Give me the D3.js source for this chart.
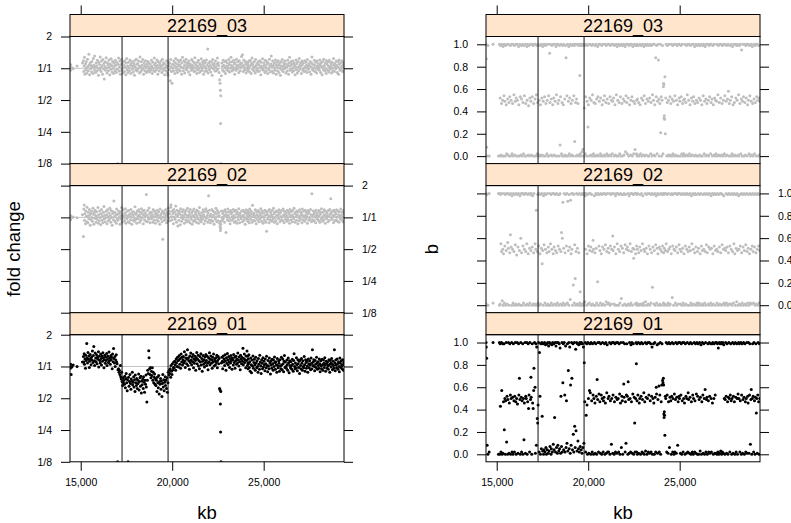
<!DOCTYPE html>
<html>
<head>
<meta charset="utf-8">
<script src="https://cdn.jsdelivr.net/npm/d3@7"></script>
<style>
  body { margin: 0; background: #fff; }
  text { font-family: "Liberation Sans", Arial, sans-serif; }
</style>
</head>
<body>
<div id="chart"></div>
<script>
// probe positions (kb), shared by all three samples
const positions = [
  14420, 14432, 14450, 14478, 14520, 14590, 14800, 15095,
  15150, 15168, 15190, 15203, 15231, 15262, 15275, 15301, 15330, 15342,
  15370, 15399, 15415, 15446, 15470, 15488, 15520, 15541, 15566, 15597,
  15612, 15640, 15672, 15690, 15715, 15748, 15760, 15791, 15820, 15838,
  15866, 15893, 15910, 15942, 15970, 15985, 16014, 16040, 16066, 16090,
  16118, 16135, 16164, 16195, 16212, 16240, 16270, 16288, 16315, 16344,
  16360, 16391, 16420, 16437, 16465, 16490, 16512, 16545, 16570, 16588,
  16616, 16648, 16661, 16690, 16722, 16740, 16768, 16795, 16813, 16846,
  16870, 16885, 16917, 16944, 16962, 16990, 17020, 17036, 17068, 17095,
  17112, 17140, 17168, 17186, 17215, 17240, 17262, 17290, 17318, 17335,
  17364, 17392, 17410, 17440, 17468, 17485, 17514, 17542, 17560, 17590,
  17616, 17640, 17668, 17690, 17718, 17745, 17762, 17794, 17820, 17838,
  17866, 17893, 17914, 17940, 17968, 17986, 18015, 18042, 18060, 18092,
  18118, 18135, 18166, 18190, 18214, 18240, 18268, 18286, 18315, 18342,
  18360, 18392, 18418, 18435, 18464, 18490, 18512, 18540, 18568, 18586,
  18615, 18642, 18660, 18690, 18718, 18736, 18765, 18790, 18812, 18840,
  18866, 18885, 18914, 18940, 18962, 18990, 19018, 19036, 19065, 19092,
  19110, 19140, 19168, 19186, 19215, 19240, 19262, 19290, 19318, 19336,
  19364, 19390, 19412, 19440, 19468, 19486, 19515, 19540, 19562, 19590,
  19616, 19636, 19665, 19690, 19712, 19740, 19768, 19786, 19815, 19842,
  19860, 19890, 19918, 19936, 19964, 19990, 20012, 20040, 20068, 20086,
  20115, 20142, 20160, 20190, 20218, 20236, 20265, 20290, 20312, 20340,
  20368, 20386, 20415, 20440, 20462, 20490, 20518, 20536, 20565, 20590,
  20612, 20640, 20668, 20686, 20715, 20742, 20760, 20790, 20818, 20836,
  20865, 20890, 20912, 20940, 20968, 20986, 21015, 21040, 21062, 21090,
  21118, 21136, 21165, 21190, 21212, 21240, 21268, 21286, 21315, 21342,
  21360, 21390, 21418, 21436, 21465, 21490, 21512, 21540, 21568, 21586,
  21615, 21640, 21662, 21690, 21718, 21736, 21765, 21790, 21812, 21840,
  21868, 21886, 21915, 21942, 21960, 21990, 22018, 22036, 22065, 22090,
  22112, 22140, 22168, 22186, 22215, 22240, 22262, 22290, 22318, 22336,
  22365, 22390, 22412, 22440, 22468, 22486, 22515, 22540, 22562, 22590,
  22618, 22632, 22645, 22656, 22668, 22690, 22715, 22742, 22760, 22790,
  22818, 22836, 22865, 22890, 22912, 22940, 22968, 22986, 23015, 23040,
  23062, 23090, 23118, 23136, 23165, 23190, 23212, 23240, 23268, 23286,
  23315, 23342, 23360, 23390, 23418, 23436, 23465, 23490, 23512, 23540,
  23568, 23586, 23615, 23640, 23662, 23690, 23718, 23736, 23765, 23790,
  23812, 23840, 23868, 23886, 23915, 23942, 23960, 23990, 24018, 24036,
  24065, 24090, 24108, 24122, 24135, 24148, 24160, 24172, 24190, 24215,
  24240, 24262, 24290, 24318, 24336, 24365, 24390, 24412, 24440, 24468,
  24486, 24515, 24540, 24562, 24590, 24618, 24636, 24665, 24690, 24712,
  24740, 24768, 24786, 24815, 24842, 24860, 24890, 24918, 24936, 24964,
  24990, 25012, 25040, 25068, 25086, 25115, 25142, 25160, 25190, 25218,
  25236, 25265, 25290, 25312, 25340, 25368, 25386, 25415, 25440, 25462,
  25490, 25518, 25536, 25565, 25590, 25612, 25640, 25668, 25686, 25715,
  25742, 25760, 25790, 25818, 25836, 25865, 25890, 25912, 25940, 25968,
  25986, 26015, 26040, 26062, 26090, 26118, 26136, 26165, 26190, 26212,
  26240, 26268, 26286, 26315, 26342, 26360, 26390, 26418, 26436, 26465,
  26490, 26512, 26540, 26568, 26586, 26615, 26640, 26662, 26690, 26718,
  26736, 26765, 26790, 26812, 26840, 26868, 26886, 26915, 26942, 26960,
  26990, 27018, 27036, 27065, 27090, 27112, 27140, 27168, 27186, 27215,
  27240, 27262, 27290, 27318, 27336, 27365, 27390, 27412, 27440, 27468,
  27486, 27515, 27540, 27562, 27590, 27618, 27636, 27665, 27690, 27712,
  27740, 27768, 27786, 27815, 27842, 27860, 27890, 27918, 27936, 27964,
  27990, 28012, 28040, 28068, 28086, 28115, 28142, 28160, 28190, 28218,
  28236, 28265, 28290, 28312, 28340, 28368, 28386, 28415, 28440, 28462,
  28490, 28518, 28536, 28565, 28590, 28612, 28640, 28668, 28686, 28715,
  28742, 28760, 28790, 28818, 28836, 28865, 28890, 28912, 28940, 28968,
  28986, 29015, 29040, 29062, 29090, 29118, 29136, 29165, 29190, 29212,
  29240, 29268, 29286, 29315, 29340, 29362, 29378
];

// copy-number fold change per probe
const foldChange03 = [
  1.02, .96, 1.08, 1.00, 1.01, .99, 1.05, 1.12,
  1.18, .93, 1.05, 1.27, .88, 1.10, .97, 1.15, 1.01, .90,
  1.22, 1.04, .95, 1.36, 1.08, .87, 1.13, .99, 1.06, .92,
  1.16, 1.02, .89, 1.24, 1.07, .96, 1.31, 1.03, .91, 1.12,
  1.05, .94, 1.19, 1.00, .86, 1.14, 1.09, .97, 1.28, 1.02,
  .93, 1.17, 1.06, .88, 1.21, .99, 1.11, .79, 1.04, 1.15,
  .96, 1.26, 1.01, .90, 1.13, 1.08, .95, 1.20, 1.03, .87,
  1.10, .98, 1.23, 1.06, .92, 1.16, 1.00, .89, 1.12, 1.05,
  .95, 1.19, 1.07, .91, 1.14, .98, .125, 1.09, 1.25, .94,
  1.03, 1.17, .88, 1.08, 1.21, .96, 1.11, 1.00, .90, 1.15,
  1.06, .93, 1.18, 1.02, .87, 1.12, 1.24, .97, 1.05, .91,
  1.14, 1.01, .95, 1.20, 1.07, .89, 1.10, 1.16, .98, 1.04,
  .92, 1.13, 1.06, .86, 1.19, 1.02, .96, 1.22, 1.09, .94,
  1.11, .99, 1.17, 1.05, .90, 1.28, 1.03, .93, 1.15, 1.07,
  .97, 1.21, 1.00, .88, 1.12, 1.06, .95, 1.18, 1.02, .91,
  1.09, .94, 1.16, 1.04, 1.13, .98, .92, 1.10, 1.01, .96,
  1.19, 1.05, .89, 1.14, 1.00, .95, 1.25, 1.08, .93, 1.12,
  1.03, .97, 1.20, 1.06, .88, 1.15, 1.01, .94, 1.11, 1.07,
  .99, 1.17, 1.04, .91, 1.22, 1.08, .96, 1.13, 1.00, .87,
  1.10, 1.02, .95, 1.18, 1.05, .90, .86, 1.14, 1.06, .97,
  1.12, .76, 1.21, 1.03, .93, .72, 1.09, 1.00, .95, 1.17,
  1.06, .89, 1.13, 1.24, 1.02, .96, 1.10, .91, 1.19, 1.05,
  .97, 1.15, 1.08, .94, 1.20, 1.03, .88, 1.12, 1.27, 1.01,
  .95, 1.18, 1.06, .90, 1.14, 1.00, 1.22, .97, 1.09, 1.04,
  1.13, .92, 1.17, 1.05, .87, 1.10, 1.02, .96, 1.21, 1.07,
  .99, 1.16, 1.03, .93, 1.12, 1.26, .95, 1.08, 1.01, .89,
  1.14, 1.05, .97, 1.19, 1.00, .91, 1.11, 1.07, .94, 1.23,
  1.02, .96, 1.15, 1.09, .88, 1.18, 1.04, .93, 1.13, 1.00,
  1.20, .95, 1.07, 1.52, .90, 1.12, 1.03, .97, 1.16, 1.06,
  .92, 1.14, 1.01, .86, 1.21, 1.08, .99, 1.11, 1.04, .94,
  1.17, 1.02, .95, 1.09, 1.25, .98, 1.13, 1.06, .91, .78,
  .72, .62, .30, .55, .125, .85, 1.12, 1.04, .96, 1.19,
  1.07, .93, 1.15, 1.01, .89, 1.18, 1.05, .97, 1.12, 1.02,
  .95, 1.21, 1.08, .92, 1.14, 1.00, 1.27, 1.06, .94, 1.16,
  1.03, .97, 1.19, 1.10, .88, 1.13, 1.01, .96, 1.22, 1.07,
  .99, 1.15, 1.04, .91, 1.18, 1.08, .95, 1.11, 1.02, 1.29,
  1.12, 1.34, 1.06, .93, 1.20, 1.03, .97, 1.16, 1.09, .90,
  1.14, 1.01, .96, 1.08, 1.12, .94, 1.05, .99, 1.17, 1.03,
  .92, 1.19, 1.07, .89, 1.13, 1.25, .98, 1.10, 1.04, .95,
  1.16, 1.02, .90, 1.21, 1.06, .96, 1.11, 1.00, .93, 1.15,
  1.08, .94, 1.18, 1.03, .87, 1.14, 1.05, .98, 1.23, 1.01,
  .96, 1.12, 1.07, .91, 1.19, 1.02, .95, 1.16, 1.09, .89,
  1.13, 1.00, .97, 1.22, 1.05, .92, 1.10, 1.31, 1.04, .94,
  1.17, 1.06, .90, 1.12, 1.01, .96, 1.20, 1.08, .88, 1.14,
  1.03, .95, 1.18, 1.07, .91, 1.11, 1.00, .86, 1.15, 1.05,
  .97, 1.21, 1.04, .93, 1.13, 1.08, .99, 1.17, 1.02, .90,
  1.10, 1.03, .94, 1.19, 1.06, .88, 1.12, 1.27, .96, 1.05,
  1.15, .98, 1.09, .92, 1.18, 1.01, .95, 1.13, 1.07, .87,
  1.04, 1.20, .97, 1.11, .90, 1.16, 1.02, .94, 1.24, 1.06,
  .99, 1.13, 1.05, .89, 1.17, 1.08, .96, 1.12, 1.00, .93,
  1.18, 1.03, .95, 1.14, 1.07, .91, 1.21, 1.02, .98, 1.10,
  1.06, .92, 1.16, 1.04, .88, 1.12, 1.28, .97, 1.09, 1.01,
  .95, 1.19, 1.07, .93, 1.14, 1.00, .90, 1.17, 1.05, .98,
  1.11, 1.02, .96, 1.20, 1.08, .91, 1.13, 1.04, .87, 1.16,
  1.03, .97, 1.22, 1.06, .94, 1.12, 1.00, .89, 1.18, 1.09,
  .96, 1.15, 1.05, .92, 1.19, 1.02, .98, 1.13, 1.07, .90,
  1.14, 1.01, .95, 1.24, 1.08, .93, 1.11, 1.04, .99, 1.17,
  1.06, .91, 1.15, 1.03, .88, 1.20, 1.09, .96, 1.12, 1.01,
  .97, 1.18, 1.05, .93, 1.13, 1.08, 1.02
];

const foldChange02 = [
  .98, 1.04, .95, 1.02, 1.00, 1.01, .99, 1.06,
  .66, 1.20, 1.31, .94, 1.08, .87, 1.15, 1.02, .91, 1.25,
  1.03, .89, 1.12, .97, 1.19, 1.05, .84, 1.09, .95, 1.14,
  1.00, .92, 1.22, 1.07, .86, 1.11, .98, 1.17, 1.04, .90,
  1.13, .96, 1.01, 1.24, .88, 1.06, .93, 1.15, 1.00, .85,
  1.08, 1.19, .94, 1.03, .89, 1.12, 1.27, .97, 1.05, .91,
  .99, 1.14, 1.06, .87, 1.18, 1.01, .93, 1.10, .96, 1.22,
  1.04, .90, 1.16, 1.00, .84, 1.09, 1.13, .95, 1.43, 1.02,
  .92, 1.11, 1.05, .88, 1.20, .97, 1.07, .94, 1.15, 1.00,
  1.09, .86, 1.13, 1.03, .96, 1.24, .90, 1.06, 1.18, .99,
  1.02, .93, 1.10, 1.21, .88, 1.05, .97, 1.14, 1.00, .91,
  1.16, 1.04, .89, 1.08, .95, 1.19, 1.01, .86, 1.12, 1.06,
  .94, 1.13, 1.00, .92, 1.26, 1.07, .96, 1.10, .88, 1.15,
  1.03, .97, 1.18, 1.05, .90, 1.12, 1.01, .94, 1.21, 1.08,
  .99, 1.14, .87, 1.06, 1.17, .95, 1.02, 1.10, .92, 1.65,
  1.05, .91, 1.16, 1.00, .96, 1.23, 1.08, .89, 1.12, 1.03,
  .97, 1.11, 1.04, .90, 1.19, 1.01, .94, 1.15, 1.07, .88,
  1.10, 1.02, .95, 1.17, 1.06, .92, 1.13, 1.00, .86, 1.20,
  1.04, .97, 1.09, .91, 1.15, .62, 1.01, 1.12, .94, 1.07,
  .96, 1.18, 1.03, .89, 1.11, 1.06, .93, 1.22, .99, 1.14,
  1.08, .93, 1.25, 1.32, 1.02, .95, 1.15, 1.09, .87, 1.19,
  1.01, 1.12, .96, 1.28, 1.06, .90, 1.17, 1.03, .83, 1.10,
  .94, 1.14, 1.07, .85, 1.21, 1.00, .92, 1.13, 1.05, .97,
  1.18, 1.02, .88, 1.11, 1.07, .95, 1.16, .91, 1.04, 1.22,
  1.00, .93, 1.13, 1.06, .89, 1.19, 1.02, .96, 1.10, .86,
  1.15, 1.04, .92, 1.20, 1.01, .95, 1.12, 1.07, .90, 1.17,
  1.03, .97, 1.14, .88, 1.09, 1.24, .94, 1.05, 1.00, .91,
  1.11, 1.02, .96, 1.18, 1.06, .87, 1.13, 1.01, .93, 1.21,
  .98, 1.15, 1.04, .90, 1.10, 1.60, .95, 1.17, 1.03, .89,
  1.07, .94, 1.19, 1.01, .92, 1.14, 1.05, .86, 1.12, 1.00,
  .96, 1.22, 1.08, .91, 1.16, 1.02, .93, 1.11, 1.04, .88,
  .82, .75, .79, .86, .92, 1.15, 1.00, .94, 1.09, .97,
  1.14, 1.03, .90, 1.18, 1.06, .72, 1.12, 1.01, .95, 1.20,
  1.05, .93, 1.13, .99, .87, 1.16, 1.08, .94, 1.11, 1.02,
  .96, 1.19, 1.04, .90, 1.14, 1.00, .92, 1.17, 1.07, .88,
  1.12, 1.01, .95, 1.21, 1.06, .89, 1.10, 1.03, .97, 1.15,
  1.02, .91, 1.17, 1.05, .94, 1.13, 1.00, .86, 1.09, 1.18,
  .97, 1.11, 1.04, .92, 1.16, 1.01, .95, 1.12, 1.07, .89,
  1.20, 1.03, .96, 1.14, 1.08, .90, 1.30, 1.02, .94, 1.10,
  1.05, .93, 1.18, 1.00, .87, 1.13, 1.06, .95, 1.16, 1.01,
  .91, 1.12, 1.04, .97, 1.21, 1.08, .92, 1.15, 1.02, .88,
  1.10, 1.00, .94, 1.17, 1.05, .90, 1.13, .74, 1.07, .96,
  1.14, 1.03, .89, 1.19, 1.01, .95, 1.11, 1.06, .92, 1.16,
  1.02, .96, 1.22, 1.08, .90, 1.12, 1.00, .93, 1.15, 1.05,
  .87, 1.13, 1.04, .97, 1.18, 1.09, .91, 1.11, 1.02, .95,
  1.16, 1.01, .93, 1.20, 1.06, .89, 1.14, 1.03, .96, 1.10,
  1.04, .92, 1.17, 1.00, .94, 1.12, 1.07, .88, 1.19, 1.02,
  .95, 1.13, 1.05, .91, 1.16, 1.01, .97, 1.22, 1.08, .90,
  1.11, 1.02, .94, 1.15, 1.06, .87, 1.13, 1.00, .93, 1.18,
  1.03, .96, 1.12, 1.07, .89, 1.20, 1.04, .95, 1.14, 1.01,
  .92, 1.17, 1.05, .97, 1.11, 1.02, .88, 1.16, 1.08, .94,
  1.13, 1.00, .96, 1.19, 1.06, .91, 1.67, 1.03, .95, 1.15,
  1.07, .93, 1.12, 1.01, .89, 1.17, 1.05, .97, 1.10, 1.02,
  .94, 1.16, 1.04, .90, 1.13, 1.08, .96, 1.21, 1.00, .92,
  1.12, 1.03, .95, 1.18, 1.06, .88, 1.14, 1.01, .97, 1.10,
  1.04, .91, 1.16, 1.02, .94, 1.19, 1.07, 1.50, 1.11, 1.00,
  .96, 1.14, 1.05, .89, 1.17, 1.03, .93, 1.12, 1.08, .95,
  1.18, 1.01, .92, 1.15, 1.06, .90, 1.13, 1.02, .97, 1.20,
  1.05, .94, 1.12, 1.00, .91, 1.16, 1.08
];

const foldChange01 = [
  1.02, .96, 1.05, .84, .99, 1.03, 1.00, 1.10,
  1.24, 1.10, 1.32, 1.05, 1.18, .96, 1.28, 1.14, 1.65, 1.21,
  1.08, 1.36, 1.17, 1.26, .98, 1.12, 1.30, 1.19, 1.04, 1.23,
  1.15, 1.40, 1.09, 1.27, 1.55, 1.13, 1.02, 1.34, 1.20, 1.11,
  1.29, 1.06, 1.22, 1.17, 1.38, .99, 1.25, 1.14, 1.08, 1.31,
  1.19, 1.03, 1.26, 1.12, 1.35, 1.21, .97, 1.16, 1.28, 1.07,
  1.23, 1.14, 1.33, 1.02, 1.18, 1.25, 1.09, 1.37, 1.13, 1.20,
  1.05, 1.27, 1.16, 1.22, .95, 1.31, 1.11, 1.48, 1.19, 1.08,
  1.24, 1.00, 1.15, 1.29, 1.10, 1.06, .125, .93, .95, .88,
  .92, .84, 1.02, .80, .76, .88, .72, .66, .78, .70,
  .74, .68, .81, .63, .77, .86, .70, .59, .75, .125,
  .79, .65, .72, .84, .69, .61, .76, .73, .88, .67,
  .71, .80, .64, .75, .58, .83, .70, .66, .77, .62,
  .74, .69, .85, .60, .72, .78, .65, .81, .56, .73,
  .67, .76, .62, .80, .71, .57, .74, .68, .83, .64,
  .46, .74, .92, .86, 1.41, 1.21, .95, .84, .98, .78,
  .90, .82, .97, .74, .88, .70, .79, .85, .68, .76,
  .66, .74, .58, .79, .70, .63, .82, .55, .72, .68,
  .77, .61, .73, .52, .69, .84, .64, .75, .59, .71,
  .80, .66, .74, .62, .78, .57, .70, .88, .83, .92,
  .86, .95, .79, 1.02, .90, .84, 1.06, .93, .98, 1.10,
  .97, 1.12, 1.04, .92, 1.18, 1.08, 1.00, 1.22, 1.13, .99,
  1.15, 1.27, 1.05, 1.19, .96, 1.31, 1.10, 1.22, 1.03, 1.16,
  1.24, 1.08, 1.38, 1.12, .98, 1.20, 1.29, 1.06, 1.17, 1.44,
  1.02, 1.21, 1.13, .94, 1.26, 1.09, 1.34, 1.15, 1.04, 1.23,
  1.11, 1.30, .97, 1.18, 1.07, 1.25, 1.14, .92, 1.21, 1.36,
  1.06, 1.17, 1.28, 1.01, 1.13, .95, 1.24, 1.10, 1.32, 1.03,
  1.19, .90, 1.12, 1.27, 1.05, 1.16, .99, 1.23, 1.09, 1.30,
  1.14, 1.02, 1.25, 1.08, .93, 1.20, 1.11, 1.35, 1.04, 1.17,
  1.26, 1.07, 1.15, .96, 1.22, 1.10, 1.31, 1.01, 1.18, 1.13,
  1.03, 1.21, 1.09, 1.28, .97, 1.14, 1.24, 1.06, 1.19, .62,
  .60, .44, .24, .58, .125, 1.08, 1.22, 1.12, .95, 1.26,
  1.10, 1.18, 1.02, 1.29, 1.13, .92, 1.21, 1.07, 1.33, 1.15,
  1.04, 1.24, 1.11, .98, 1.19, 1.08, 1.27, 1.14, .94, 1.20,
  1.16, 1.03, 1.30, 1.09, 1.22, .96, 1.13, 1.25, 1.05, 1.18,
  1.08, 1.34, 1.15, 1.01, 1.23, 1.11, .93, 1.28, 1.17, 1.06,
  1.22, 1.12, 1.49, 1.04, 1.19, 1.31, 1.09, 1.16, .97, 1.26,
  1.14, 1.40, 1.02, 1.25, 1.08, .95, 1.18, 1.06, 1.29, .98,
  1.11, .90, 1.20, 1.04, .87, 1.15, 1.01, 1.26, .96, 1.09,
  1.17, 1.03, .92, 1.22, 1.08, .97, 1.13, 1.00, .88, 1.19,
  1.05, .94, 1.28, 1.10, 1.01, .86, 1.16, 1.07, .95, 1.21,
  .99, 1.12, 1.04, .91, 1.18, 1.06, .97, 1.25, 1.02, .89,
  1.14, 1.01, .95, 1.20, 1.08, .85, 1.12, 1.03, .96, 1.17,
  1.06, .92, 1.15, 1.00, 1.23, 1.09, .94, 1.11, 1.04, .88,
  1.19, 1.02, .97, 1.13, 1.07, .90, 1.16, 1.01, .95, 1.22,
  1.03, .93, 1.18, 1.06, .89, 1.12, 1.27, .98, 1.10, 1.00,
  .96, 1.15, 1.04, .92, 1.20, 1.08, .87, 1.13, 1.02, .97,
  1.11, 1.01, .94, 1.17, 1.05, .90, 1.14, 1.32, 1.00, .95,
  1.08, .96, 1.21, 1.03, .91, 1.16, 1.06, .98, 1.12, .86,
  1.15, 1.02, .95, 1.19, 1.07, .92, 1.13, 1.00, .97, 1.24,
  1.04, .90, 1.16, 1.09, .96, 1.12, 1.01, .88, 1.18, 1.06,
  .97, 1.13, 1.03, .93, 1.20, 1.07, .95, 1.44, 1.02, 1.10,
  1.16, 1.00, .91, 1.14, 1.05, .98, 1.22, 1.08, .94, 1.11,
  1.02, .96, 1.18, 1.06, .89, 1.13, 1.01, .95, 1.17, 1.04,
  .92, 1.15, 1.07, .98, 1.21, 1.03, .90, 1.12, 1.06, .96,
  1.10, 1.01, .94, 1.16, 1.04, .88, 1.14, 1.07, .99, 1.19,
  1.05, .93, 1.12, 1.02, .96, 1.44, 1.08, .91, 1.15, 1.03,
  .97, 1.18, 1.06, .94, 1.11, 1.00, .89, 1.20, 1.07, .98,
  1.13, 1.02, .95, 1.16, 1.04, .92, 1.09
];

// B allele frequency per probe
const bFreq03 = [
  1, .87, .08, 0, .99, 0, 1, 0,
  1, 0, .52, .99, .01, .47, 1, 0, .5, .98,
  0, .54, 1, .49, 0, .99, .46, .02, 1, .51,
  .01, 1, .48, 0, .53, .99, 0, .5, 1, .02,
  .47, 1, 0, .55, .99, .01, .49, 1, .52, 0,
  1, .5, 0, .98, .46, 0, 1, .53, .01, .99,
  .51, 0, 1, .48, .02, .99, .54, 0, 1, .47,
  0, .98, .5, 1, .01, .45, .99, 0, .52, 1,
  .49, .01, 1, .53, 0, .99, .47, 1, 0, .51,
  1, 0, .55, .99, .02, .48, 1, 0, .5, .01,
  .99, .46, 0, 1, .52, .01, .98, .49, 0, 1,
  .53, 0, .99, .47, 1, .02, .5, 0, 1, .54,
  0, .92, .48, 1, .01, .51, .99, 0, .46, 1,
  .52, .01, 1, .49, 0, .98, .55, 1, 0, .47,
  1, .5, 0, .99, .1, .53, 1, .02, .48, 0,
  .99, .46, 1, 0, .51, .01, .99, .88, 0, .54,
  1, 0, .49, .98, .02, .52, 1, 0, .47, .99,
  .01, .5, 1, 0, .54, .99, .13, 1, .48, 0,
  .51, 1, .01, .47, .99, 0, 1, .72, .02, .99,
  0, 1, .04, .99, .06, 1, 0, .43, .99, .02,
  .53, 1, 0, .49, .99, .26, .46, 1, 0, .52,
  1, .01, .5, .99, 0, .55, 1, .02, .48, 0,
  .99, .47, 0, 1, .51, .01, .98, .53, 0, 1,
  .49, 1, .02, .52, 0, .99, .46, 1, 0, .5,
  .01, .54, 1, 0, .48, .99, .02, .51, 1, 0,
  .47, 1, .01, .53, .99, 0, .5, 1, .02, .49,
  1, .52, 0, .99, .46, .01, 1, .55, 0, .98,
  .5, 0, 1, .48, .02, .99, .53, 0, 1, .47,
  0, .99, .51, 1, .01, .49, .98, .04, .54, 1,
  .48, .02, 1, .52, 0, .99, .46, 1, .01, .5,
  1, .53, 0, .98, .49, .02, 1, .47, .06, .99,
  .99, .02, .5, 1, 0, .51, .01, .99, .48, 0,
  1, .46, .02, .99, .52, 0, 1, .5, .01, .98,
  .54, 0, 1, .47, .01, .99, .51, 1, 0, .49,
  0, .99, .52, 1, .02, .48, .99, 0, .55, 1,
  .5, .01, 1, .46, 0, .88, .53, .99, .02, .49,
  1, .86, .51, 0, .47, 1, .21, .53, 0, .5,
  .99, .02, .62, .65, .64, .34, .36, .33, .71, .2,
  .52, 1, 0, .48, .99, .01, .5, 1, 0, .53,
  .01, .47, 1, 0, .51, .99, .02, .49, 1, 0,
  .54, 1, .01, .5, 0, .99, .46, 1, 0, .52,
  1, .49, 0, .99, .53, .02, 1, .47, 0, .5,
  .02, .51, 1, 0, .48, .99, .01, .55, 1, 0,
  .5, 1, .02, .46, .99, 0, .52, 1, .01, .49,
  1, .53, 0, .98, .47, .01, 1, .5, 0, .99,
  .48, 0, 1, .52, .01, .99, .5, 0, 1, .46,
  0, .99, .54, 1, .02, .49, .98, 0, .51, 1,
  .47, .01, 1, .5, 0, .99, .53, 1, .02, .48,
  1, .51, 0, .99, .46, .01, 1, .52, 0, .5,
  .02, .49, 1, 0, .55, .99, .01, .48, 1, 0,
  .52, 1, .01, .47, .99, 0, .5, 1, .02, .54,
  1, 0, .49, .99, .01, .51, 1, .58, 0, .47,
  .99, .5, 0, 1, .53, .02, .98, .46, 0, 1,
  .48, .01, 1, .52, 0, .99, .5, 1, .01, .55,
  0, .99, .47, 1, .02, .51, .95, 0, .49, 1,
  .53, 0, 1, .48, .01, .99, .52, 1, 0, .46,
  1, .5, .02, .99, .54, 0, 1, .49, .01, .98,
  .47, 0, 1, .51, .02, .99, .48, 1, 0, .53,
  1, .5, 0, .99, .52, .01, .49
];

const bFreq02 = [
  .01, 1, 0, .99, 0, 1, .02, 1,
  0, 1, .01, .99, .55, .48, 1, .04, .5, 0,
  .46, 1, .02, .53, .99, 0, .49, 1, .01, .56,
  1, .51, 0, .99, .47, .63, 1, .52, 0, .98,
  .5, .02, 1, .48, 0, .99, .54, .01, 1, .45,
  0, .99, .52, 1, .01, .49, .98, 0, .6, 1,
  .47, 0, 1, .53, .02, .99, .5, 1, 0, .48,
  1, .55, .01, .99, .46, 0, 1, .51, .02, .99,
  .49, 1, 0, .52, .98, .01, .47, 1, 0, .55,
  .01, .5, .85, 0, .48, .99, .02, .53, 1, 0,
  .46, .99, .01, .51, 1, .37, .49, 0, .98, .54,
  1, .02, .5, .99, 0, .47, 1, .01, .52, 0,
  .48, 1, 0, .55, .99, .02, .5, 1, 0, .46,
  1, .52, .01, .99, .49, 0, 1, .47, .02, .99,
  .53, 0, .99, .5, 1, .01, .48, .65, 0, .6,
  .92, .02, .51, 1, 0, .47, .99, .01, .53, 1,
  .02, .93, .49, 0, .99, .52, .05, .94, .46, 1,
  .5, 0, 1, .18, .99, .02, .54, .24, 0, .48,
  1, .01, .51, .99, 0, .47, 1, .02, .12, 0,
  .99, 0, 1, .01, .99, 0, .02, 1, .03, .98,
  .5, 1, 0, .46, .99, .01, .53, 1, .02, .49,
  1, .52, 0, .99, .48, .01, .58, .5, 0, .98,
  .47, 0, 1, .51, .02, .99, .21, 1, 0, .53,
  .99, .49, .02, 1, .46, 0, .99, .52, .01, 1,
  .5, 1, 0, .54, .99, .03, .48, 1, .01, .51,
  .02, .47, 1, 0, .53, .99, .01, .5, 1, .62,
  .49, 1, .01, .52, 0, .98, .46, 1, 0, .55,
  1, .5, 0, .99, .48, .02, 1, .53, .06, .99,
  .51, 0, .99, .47, 1, .01, .54, .99, 0, .5,
  0, .52, 1, .01, .49, .98, 0, .55, 1, .02,
  .48, 1, 0, .51, .99, .42, .5, 1, .01, .46,
  1, .02, .53, .99, 0, .5, 1, .01, .47, 0,
  .52, .99, .01, .49, 1, 0, .55, .98, .02, .5,
  0, .48, 1, .03, .51, .99, 0, .46, 1, .01,
  .53, 1, 0, .5, .99, .02, .47, 1, .16, .52,
  .99, .01, .49, 1, 0, .54, .98, .02, .51, 1,
  .46, 0, .99, .52, .01, .5, 1, 0, .48, .99,
  .53, 1, .02, .47, .99, 0, .51, 1, .01, .49,
  1, .55, 0, .99, .48, .02, 1, .5, 0, .52,
  .01, .99, .46, 1, .07, .53, .99, 0, .5, 1,
  .49, .02, 1, .52, 0, .99, .47, 1, .01, .54,
  1, .5, .01, .99, .48, 0, 1, .51, .02, .99,
  .46, 0, 1, .53, .01, .99, .5, 1, 0, .48,
  .99, .52, 0, 1, .49, .02, .98, .55, 0, 1,
  .5, .01, .99, .47, 1, 0, .52, .99, .02, .48,
  0, 1, .51, .02, .99, .46, 0, 1, .53, .01,
  .49, .99, 0, .5, 1, .02, .48, .99, 0, .54,
  1, .47, .01, .99, .52, 0, 1, .5, .02, .98,
  .51, 0, 1, .46, .01, .99, .53, 1, 0, .49,
  .99, .5, .02, 1, .48, 0, .99, .52, .01, 1,
  .47, 1, 0, .54, .99, .01, .5, .98, .02, .51,
  0, .49, 1, .02, .52, .99, 0, .47, 1, .01,
  .53, .99, .01, .5, 1, 0, .48, .99, .02, .55,
  1, .46, 0, .99, .51, .03, 1, .49, 0, .98,
  .5, .01, .99, .53, 0, 1, .47, .02, .99, .52,
  0, 1, .49, .01, .99, .54, 0, 1, .48, .02,
  .51, .99, 0, .46, 1, .02, .5, .99, .01, .53,
  1, .48, .02, .99, .52, 0, 1, .47, .01, .99,
  .5, 0, 1, .53, .02, .99, .49
];

const bFreq01 = [
  1, .96, .86, .08, 0, .02, 1, 0,
  1, 0, .99, .43, .02, 1, .57, 0, .99, .01,
  .47, .99, .22, .5, 0, .48, 1, .11, .52, 0,
  .49, 1, .01, .46, .99, .53, 0, .5, 1, .02,
  .51, 0, .99, .48, .02, .52, 1, .47, 0, .5,
  1, .45, .01, .99, .53, .68, .49, 0, 1, .51,
  .02, .48, .99, 0, .5, .13, .46, 1, .01, .52,
  .5, 1, 0, .47, .99, .41, .53, .02, 1, .49,
  .69, .51, 0, .99, .46, .41, .57, .77, 1, .6,
  .01, .99, .08, .96, .32, .28, .44, 1, .02, .91,
  .52, 0, .99, .05, 1, .34, .03, .99, 0, .04,
  1, .02, .98, .06, 0, .99, .04, 1, .01, .97,
  .03, 1, .07, .99, 0, .05, .98, .02, 1, .09,
  .99, .04, .33, 1, .02, .97, .06, 1, .01, .08,
  1, .03, .99, .05, .95, .01, .52, .07, 1, .02,
  .64, .99, .04, 1, .53, .02, .97, .06, .48, .1,
  .99, .03, .75, 1, .05, .96, .01, .62, .08, 1,
  .68, .04, .99, .18, .02, 1, .25, .06, .94, .21,
  1, .03, .99, .12, .05, .98, .02, 1, .07, .99,
  .04, 1, .01, .99, .06, .96, .1, .82, .47, 1,
  .02, .35, .99, .44, 0, 1, .5, .01, .57, .99,
  .55, 0, 1, .48, .02, .99, .53, 0, .5, 1,
  .46, .01, .99, .52, 0, .67, .49, 1, .02, .54,
  1, .47, .01, .99, .53, 0, .5, 1, .02, .48,
  .51, .99, 0, .46, 1, .01, .55, .98, .02, .5,
  .02, .52, 1, 0, .48, .99, .09, .5, 1, .01,
  .53, 1, 0, .47, .99, .02, .51, 1, .01, .49,
  1, .5, .02, .99, .54, 0, .46, 1, .06, .52,
  .48, 0, 1, .63, .51, .99, .02, .47, .1, .53,
  .99, .52, 0, .65, .49, .01, 1, .5, .02, .98,
  .47, 1, .01, .54, .99, 0, .51, .28, .02, .5,
  1, .81, .02, .99, .48, 0, .53, 1, .01, .46,
  .5, .99, 0, .52, 1, .02, .49, .99, .01, .55,
  0, .47, 1, .03, .51, .99, 0, .5, 1, .02,
  .53, 1, .01, .48, .99, .02, .52, .96, 0, .5,
  .99, .46, 0, 1, .51, .02, .6, .54, .98, .01,
  .49, .99, .61, .02, .53, 1, 0, .47, .62, .99,
  .66, .64, .68, .62, .36, .33, .38, .35, .17, .52,
  .5, 1, .02, .53, .99, .01, .47, 1, .06, .51,
  .99, .48, 0, .52, 1, .02, .5, .99, 0, .54,
  .02, .49, 1, .01, .51, .99, .08, .47, 1, .52,
  .5, 1, .01, .53, .99, 0, .48, 1, .02, .5,
  1, .46, 0, .99, .52, .01, .5, 1, .02, .55,
  .49, .99, .01, .51, 1, 0, .47, .99, .02, .53,
  0, .5, 1, .02, .48, .99, .01, .54, 1, 0,
  .52, .99, 0, .49, 1, .03, .51, .98, 0, .47,
  1, .53, .01, .99, .5, 0, .58, 1, .02, .49,
  .51, 0, .99, .48, .02, 1, .52, .01, .99, .5,
  .02, .99, .46, 1, 0, .5, .99, .01, .53, 1,
  .01, 1, 0, .99, .02, .95, 0, 1, .01, .99,
  .03, 1, 0, .99, .02, 1, .01, .98, .5, 0,
  .49, 1, .52, .01, .99, .47, 0, .51, 1, .5,
  .02, .53, .99, .48, 0, .5, 1, .01, .52, .99,
  .47, 0, 1, .51, .02, .99, .5, 0, .54, 1,
  .5, .99, .02, .48, 1, 0, .53, .99, .01, .49,
  1, .51, 0, .99, .47, .02, .5, 1, .01, .52,
  .46, 1, .01, .53, .99, .09, .49, .58, 0, .5,
  .99, .52, .02, 1, .48, 0, .51, .99, .37, .5,
  .01, .53, 1, .47, 0, .99, .5
];

const samples = ["22169_03", "22169_02", "22169_01"];
const kbTicks = [15000, 20000, 25000];
const foldTicks = [1 / 8, 1 / 4, 1 / 2, 1, 2];
const foldTickLabels = ["1/8", "1/4", "1/2", "1/1", "2"];
const bTicks = [0, 0.2, 0.4, 0.6, 0.8, 1.0];
const bTickLabels = ["0.0", "0.2", "0.4", "0.6", "0.8", "1.0"];
const breakpoints = [17260, 19775];

const chartW = 791, chartH = 523;
const panelW = 274, panelH = 127.1, stripH = 22, topY = 14.5;
const tickLen = 9, tickPad = 9;

const svg = d3.select("#chart")
    .append("svg")
    .attr("width", chartW)
    .attr("height", chartH);

const xScale = d3.scaleLinear().domain([14415, 29390]).range([0, panelW]);
const yFold = d3.scaleLog().base(2).domain([1 / 8, 2]).range([panelH, 0]);
const yB = d3.scaleLinear().domain([-0.067, 1.07]).range([panelH, 0]);

const columns = [
    {left: 70, y: yFold, series: [foldChange03, foldChange02, foldChange01],
     ticks: foldTicks, labels: foldTickLabels, refLine: 1, title: "fold change", titleX: 20, key: "fc"},
    {left: 486, y: yB, series: [bFreq03, bFreq02, bFreq01],
     ticks: bTicks, labels: bTickLabels, refLine: null, title: "b", titleX: 438, key: "b"}
];

const pointColor = (row) => row === 2 ? "#000000" : "#bebebe";

const styleAxis = (g) => {
    g.select(".domain").remove();
    g.selectAll("line").attr("stroke", "#000");
    g.selectAll("text")
        .attr("fill", "#000")
        .style("font-size", "10.5px");
};

columns.forEach(col => {
    const colG = svg.append("g").attr("transform", "translate(" + col.left + ",0)");

    col.series.forEach((values, row) => {
        const stripY = topY + row * (stripH + panelH);
        const panelY = stripY + stripH;
        const clipId = "clip-" + col.key + row;

        // strip
        colG.append("rect")
            .attr("x", 0).attr("y", stripY)
            .attr("width", panelW).attr("height", stripH)
            .attr("fill", "#ffe5cc")
            .attr("stroke", "#000");
        colG.append("text")
            .attr("x", panelW / 2).attr("y", stripY + stripH / 2)
            .attr("dy", "0.36em")
            .attr("text-anchor", "middle")
            .style("font-size", "18px")
            .text(samples[row]);

        const panel = colG.append("g").attr("transform", "translate(0," + panelY + ")");

        panel.append("clipPath").attr("id", clipId)
            .append("rect").attr("width", panelW).attr("height", panelH);

        const inner = panel.append("g").attr("clip-path", "url(#" + clipId + ")");

        if (col.refLine !== null) {
            inner.append("line")
                .attr("x1", 0).attr("x2", panelW)
                .attr("y1", col.y(col.refLine)).attr("y2", col.y(col.refLine))
                .attr("stroke", "#c4c4c4");
        }

        inner.selectAll("circle")
            .data(positions.map((kb, i) => ({kb: kb, v: values[i]})).filter(d => d.v !== undefined))
            .enter()
            .append("circle")
            .attr("cx", d => xScale(d.kb))
            .attr("cy", d => col.y(d.v))
            .attr("r", 1.5)
            .attr("fill", pointColor(row));

        inner.selectAll("line.bp")
            .data(breakpoints)
            .enter()
            .append("line")
            .attr("class", "bp")
            .attr("x1", d => xScale(d)).attr("x2", d => xScale(d))
            .attr("y1", 0).attr("y2", panelH)
            .attr("stroke", "#111");

        panel.append("rect")
            .attr("width", panelW).attr("height", panelH)
            .attr("fill", "none").attr("stroke", "#000");

        // y axes, labels alternate between left and right
        panel.append("g")
            .call(d3.axisLeft(col.y).tickValues(col.ticks)
                .tickFormat((d, i) => row === 1 ? "" : col.labels[i])
                .tickSize(tickLen).tickPadding(tickPad))
            .call(styleAxis);

        panel.append("g")
            .attr("transform", "translate(" + panelW + ",0)")
            .call(d3.axisRight(col.y).tickValues(col.ticks)
                .tickFormat((d, i) => row === 1 ? col.labels[i] : "")
                .tickSize(tickLen).tickPadding(tickPad))
            .call(styleAxis);

        if (row === 0) {
            colG.append("g")
                .attr("transform", "translate(0," + stripY + ")")
                .call(d3.axisTop(xScale).tickValues(kbTicks).tickFormat("").tickSize(tickLen))
                .call(styleAxis);
        }
        if (row === 2) {
            panel.append("g")
                .attr("transform", "translate(0," + panelH + ")")
                .call(d3.axisBottom(xScale).tickValues(kbTicks)
                    .tickFormat(d3.format(",")).tickSize(tickLen).tickPadding(8))
                .call(styleAxis);
        }
    });

    colG.append("text")
        .attr("x", panelW / 2)
        .attr("y", 519)
        .attr("text-anchor", "middle")
        .style("font-size", "18.5px")
        .text("kb");

    svg.append("text")
        .attr("transform", "translate(" + col.titleX + ",249) rotate(-90)")
        .attr("text-anchor", "middle")
        .style("font-size", "18.5px")
        .text(col.title);
});
</script>
</body>
</html>
